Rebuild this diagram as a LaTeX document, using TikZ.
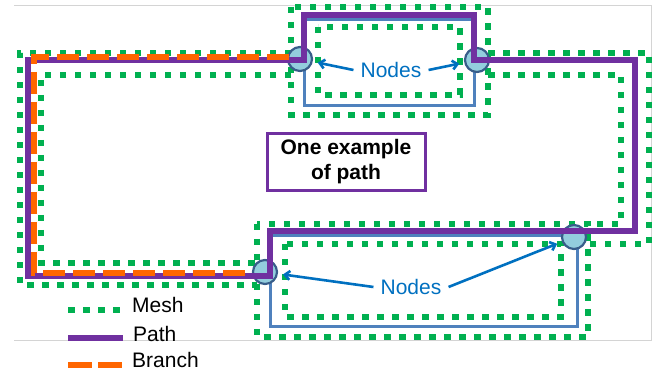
\documentclass[tikz,border=0pt]{standalone}
\usepackage{fontspec}
\setmainfont{Liberation Sans}
\usepackage{xcolor}
\usepackage{tikz}
\usetikzlibrary{arrows.meta, positioning}

\definecolor{pathpurple}{HTML}{7030A0}
\definecolor{meshgreen}{HTML}{00B050}
\definecolor{branchorange}{HTML}{FF6600}
\definecolor{bypassblue}{HTML}{4F81BD}
\definecolor{tagblue}{HTML}{0070C0}
\definecolor{junctionfill}{HTML}{93CDDD}
\definecolor{junctionline}{HTML}{385D8A}

\begin{document}
\begin{tikzpicture}[
            % one unit = one pixel, y grows downwards
            x=1pt, y=-1pt,
            meshline/.style={
                draw=meshgreen,
                line width=6.5pt,
                dash pattern=on 6.5pt off 8.5pt
            },
            mainpath/.style={draw=pathpurple, line width=6.5pt},
            branchline/.style={
                draw=branchorange,
                line width=6.5pt,
                dash pattern=on 22pt off 8pt
            },
            bypass/.style={draw=bypassblue, line width=3pt},
            junction/.style={
                circle, draw=junctionline, fill=junctionfill,
                line width=2.2pt, minimum size=24pt, inner sep=0pt
            },
            tag/.style={
                text=tagblue, inner sep=7pt,
                font=\fontsize{21}{25}\selectfont
            },
            legtext/.style={inner sep=0pt, font=\fontsize{21}{25}\selectfont},
            arrow/.style={->, draw=tagblue, line width=2.6pt,
                >={Straight Barb[length=5pt, width=9pt]}, shorten >=5pt}
        ]

        \useasboundingbox (0,0) rectangle (662,379);

        % faint frame
        \draw[black!17, line width=0.8pt] (14,5) -- (651,5) -- (651,340) -- (14,340);

        % Mesh around the two loops
        \draw[meshline] (291,7) rectangle (488,115);
        \draw[meshline] (318,27) rectangle (460,95);
        \draw[meshline] (257,224) rectangle (588,337);
        \draw[meshline] (285,244) rectangle (561,317);

        % Mesh along the main path
        \draw[meshline] (291,53) -- (20,53) -- (20,285) -- (257,285);
        \draw[meshline] (291,75) -- (41,75) -- (41,263) -- (257,263);
        \draw[meshline] (488,53) -- (649,53) -- (649,244) -- (588,244);
        \draw[meshline] (488,75) -- (621,75) -- (621,224) -- (588,224);

        % Loops
        \draw[bypass] (304,20) rectangle (474,106);
        \draw[bypass] (270,236) rectangle (577,327);

        % Nodes
        \node[junction] (n1) at (300,59) {};
        \node[junction] (n2) at (477,60) {};
        \node[junction] (n3) at (265,272) {};
        \node[junction] (n4) at (574,237) {};

        % Path and branch
        \draw[mainpath] (28,60) -- (304,60) -- (304,15) -- (474,15) -- (474,60)
            -- (635,60) -- (635,231) -- (270,231) -- (270,276) -- (28,276) -- cycle;
        \draw[branchline] (289,57) -- (34,57) -- (34,273) -- (251,273);

        % Labels
        \node[tag] (nodesTop) at (391,70) {Nodes};
        \node[tag] (nodesBot) at (411,287) {Nodes};
        \node[draw=pathpurple, line width=3pt, minimum width=158pt, minimum height=57pt,
            align=center, font=\fontsize{21}{25}\selectfont\bfseries] (example) at (346,162)
            {One example\\of path};

        % Arrows
        \draw[arrow] (nodesTop.west) -- (n1);
        \draw[arrow] (nodesTop.east) -- (n2);
        \draw[arrow] (nodesBot.west) -- (n3);
        \draw[arrow] (nodesBot.east) -- (n4);

        % Legend
        \draw[meshline] (68,310) -- (122,310);
        \draw[mainpath] (68,338) -- (123,338);
        \draw[branchline, dash pattern=on 24pt off 6pt] (68,365) -- (122,365);
        \node[legtext, anchor=base west] (legMesh) at (132,313) {Mesh};
        \node[legtext, anchor=base west] (legPath) at (133,342) {Path};
        \node[legtext, anchor=base west] (legBranch) at (132,368) {Branch};

        \end{tikzpicture}
\end{document}
